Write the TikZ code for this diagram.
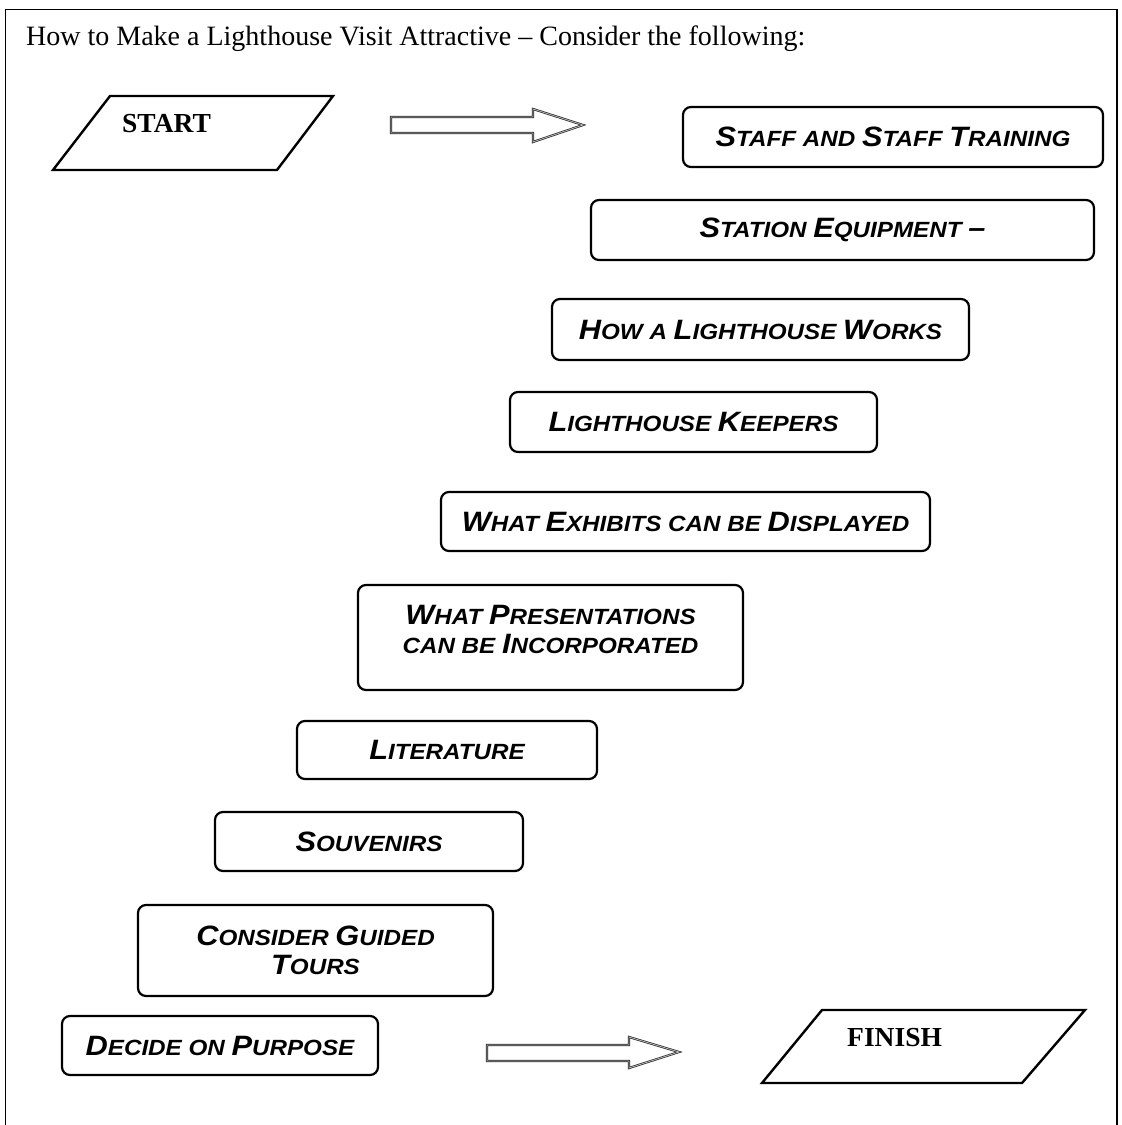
\documentclass[tikz,border=0pt]{standalone}
\usepackage{fontspec}
\setmainfont{Liberation Serif}
\newfontfamily\boxfont{Liberation Sans}[FakeStretch=1.1]
% fake small capitals: full-size initial, reduced-size rest
\newcommand\Cap[1]{{\fontsize{28}{29}\selectfont #1}}
\newcommand\Low[1]{{\fontsize{22}{29}\selectfont #1}}
\tikzset{
  stepbox/.style={draw, line width=2.2pt, rounded corners=8pt, inner sep=0pt,
    align=center, font=\boxfont\bfseries\itshape\fontsize{28}{29}\selectfont},
  ioshape/.style={draw, line width=2.4pt, line join=miter},
  blockarrow/.style={draw=black!85, double=gray!55, double distance=0.8pt,
    line width=0.7pt, line join=miter},
  serifbold/.style={font=\bfseries\fontsize{27.5}{30}\selectfont, inner sep=0pt}
}
\begin{document}
\begin{tikzpicture}[x=1pt,y=-1pt]
\useasboundingbox (0,0) rectangle (1122,1125);
% open frame around the page
\draw[line width=1.5pt] (5.5,1125) -- (5.5,9.5) -- (1117,9.5) -- (1117,1125);
\node[anchor=base west, inner sep=0pt, font=\fontsize{28}{30}\selectfont] (title) at (26,45)
  {How to Make a Lighthouse Visit Attractive – Consider the following:};

% start terminal
\draw[ioshape] (110,96) -- (333,96) -- (277,170) -- (53,170) -- cycle;
\node[serifbold, anchor=base west] (start) at (122,132) {START};
\coordinate (a1) at (391,125);
\draw[blockarrow] (a1) ++(0,-8) -- (533,117) -- (533,109) -- (583,125) -- (533,142) -- (533,133) -- (391,133) -- cycle;

% steps
\node[stepbox, minimum width=420pt, minimum height=60pt] (s1) at (893,137)
  {\Cap{S}\Low{TAFF AND }\Cap{S}\Low{TAFF }\Cap{T}\Low{RAINING}};
\node[stepbox, minimum width=503pt, minimum height=60pt] (s2) at (842.5,230)
  {\Cap{S}\Low{TATION }\Cap{E}\Low{QUIPMENT }\Cap{–}};
\node[stepbox, minimum width=417pt, minimum height=61pt] (s3) at (760.5,329.5)
  {\Cap{H}\Low{OW A }\Cap{L}\Low{IGHTHOUSE }\Cap{W}\Low{ORKS}};
\node[stepbox, minimum width=367pt, minimum height=60pt] (s4) at (693.5,422)
  {\Cap{L}\Low{IGHTHOUSE }\Cap{K}\Low{EEPERS}};
\node[stepbox, minimum width=489pt, minimum height=59pt] (s5) at (685.5,521.5)
  {\Cap{W}\Low{HAT }\Cap{E}\Low{XHIBITS CAN BE }\Cap{D}\Low{ISPLAYED}};
\node[stepbox, minimum width=385pt, minimum height=105pt] (s6) at (550.5,637.5)
  {\Cap{W}\Low{HAT }\Cap{P}\Low{RESENTATIONS}\\
   \Low{CAN BE }\Cap{I}\Low{NCORPORATED}\\[-12pt]\mbox{}};
\node[stepbox, minimum width=300pt, minimum height=58pt] (s7) at (447,750)
  {\Cap{L}\Low{ITERATURE}};
\node[stepbox, minimum width=308pt, minimum height=59pt] (s8) at (369,841.5)
  {\Cap{S}\Low{OUVENIRS}};
\node[stepbox, minimum width=355pt, minimum height=91pt] (s9) at (315.5,950.5)
  {\Cap{C}\Low{ONSIDER }\Cap{G}\Low{UIDED}\\ \Cap{T}\Low{OURS}};
\node[stepbox, minimum width=316pt, minimum height=59pt] (s10) at (220,1045.5)
  {\Cap{D}\Low{ECIDE ON }\Cap{P}\Low{URPOSE}};

% finish terminal
\coordinate (a2) at (487,1053);
\draw[blockarrow] (a2) ++(0,-8) -- (629,1045) -- (629,1037) -- (679,1052) -- (629,1068) -- (629,1061) -- (487,1061) -- cycle;
\draw[ioshape] (822,1010) -- (1085,1010) -- (1022,1083) -- (762,1083) -- cycle;
\node[serifbold, anchor=base west] (finish) at (847,1046) {FINISH};
\end{tikzpicture}
\end{document}
